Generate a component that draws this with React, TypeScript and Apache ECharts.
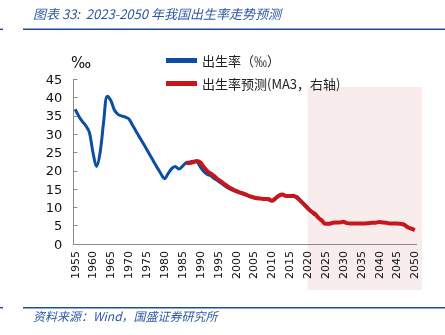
import React, { useEffect, useRef } from "react";
import * as echarts from "echarts";

const FIRST_YEAR = 1955;
const LAST_YEAR = 2050;
const years: string[] = Array.from({ length: LAST_YEAR - FIRST_YEAR + 1 }, (_, i) => String(FIRST_YEAR + i));

// 出生率（‰），1955 起
const birthRate: number[] = [
  36.8, 35.0, 33.5, 32.3, 30.5, 25.0, 21.2, 25.0, 33.5, 40.4,
  39.2, 36.6, 35.4, 35.0, 34.7, 34.2, 32.6, 30.9, 29.2, 27.6,
  25.9, 24.2, 22.5, 20.8, 19.2, 17.9, 19.2, 20.6, 21.2, 20.5,
  21.2, 22.2, 22.4, 22.6, 22.5, 21.1, 19.8, 19.0, 18.6, 17.8,
  17.2, 16.5, 15.8, 15.2, 14.7, 14.3, 14.0, 13.6, 13.3, 12.9,
  12.6, 12.5, 12.4, 12.3, 12.1, 11.8, 12.5, 13.3, 13.5, 13.2,
  13.0, 13.0, 12.9, 12.0, 11.0, 10.0, 9.0, 7.8,
];

// 出生率预测（MA3，右轴），1986 起
const FORECAST_START = 1986;
const forecast: number[] = [
  22.2, 22.1, 22.3, 22.7, 22.3, 21.0, 19.9, 19.2, 18.5, 17.6,
  17.0, 16.2, 15.5, 15.0, 14.5, 14.1, 13.8, 13.4, 13.0, 12.7,
  12.5, 12.4, 12.3, 12.3, 11.8, 12.4, 13.2, 13.5, 13.1, 13.1,
  13.2, 12.7, 11.8, 10.8, 9.8, 8.9, 8.3, 7.2, 6.4, 5.5,
  5.5, 5.8, 5.9, 5.9, 6.1, 5.7, 5.6, 5.6, 5.6, 5.6,
  5.6, 5.7, 5.8, 5.8, 6.0, 5.9, 5.8, 5.6, 5.6, 5.6,
  5.5, 5.3, 4.6, 4.2, 3.8,
];

const SHADE_FROM = "2020";

const TITLE = "图表 33:  2023-2050 年我国出生率走势预测";
const SOURCE = "资料来源：Wind，国盛证券研究所";
const LEGEND_ACTUAL = "出生率（‰）";
const LEGEND_FORECAST = "出生率预测(MA3，右轴)";

export default function App() {
  const ref = useRef<HTMLDivElement>(null);
  useEffect(() => {
    if (!ref.current) return;
    const chart = echarts.init(ref.current, undefined, { renderer: "svg" });
    const forecastData: (number | string)[] = years.map((y) => {
      const idx = Number(y) - FORECAST_START;
      return idx >= 0 && idx < forecast.length ? forecast[idx] : "-";
    });
    const blue = "#0B4EA2";
    const red = "#C8161D";
    const ruleColor = "#1F4E9A";
    const option: any = {
      animation: false,
      textStyle: { fontFamily: "DejaVu Sans" },
      grid: { left: 73.3, right: 28.4, top: 79.3, bottom: 91, containLabel: false },
      legend: {
        orient: "vertical",
        left: 161,
        top: 49,
        itemWidth: 31,
        itemHeight: 5,
        itemGap: 10,
        icon: "rect",
        textStyle: { fontFamily: "Noto Sans CJK SC", fontSize: 13, color: "#222" },
        data: [LEGEND_ACTUAL, LEGEND_FORECAST],
      },
      xAxis: {
        type: "category",
        data: years,
        boundaryGap: true,
        axisLine: { lineStyle: { color: "#8a8a8a", width: 1 } },
        axisTick: { inside: true, length: 4, interval: 4, lineStyle: { color: "#8a8a8a" } },
        axisLabel: { interval: 4, rotate: 90, fontSize: 11, color: "#111", margin: 7, fontFamily: "DejaVu Sans" },
        splitLine: { show: false },
      },
      yAxis: [
        {
          type: "value",
          min: 0,
          max: 45,
          interval: 5,
          axisLine: { show: true, lineStyle: { color: "#8a8a8a" } },
          axisTick: { show: true, inside: true, length: 4, lineStyle: { color: "#8a8a8a" } },
          axisLabel: { fontSize: 13, color: "#111", margin: 11, fontFamily: "DejaVu Sans" },
          splitLine: { show: false },
        },
        { type: "value", min: 0, max: 45, interval: 5, show: false, splitLine: { show: false } },
      ],
      series: [
        {
          name: LEGEND_ACTUAL,
          type: "line",
          data: birthRate,
          smooth: 0.35,
          symbol: "none",
          lineStyle: { color: blue, width: 3 },
          itemStyle: { color: blue },
          z: 3,
        },
        {
          name: LEGEND_FORECAST,
          type: "line",
          yAxisIndex: 1,
          data: forecastData,
          smooth: 0.35,
          symbol: "none",
          lineStyle: { color: red, width: 4 },
          itemStyle: { color: red },
          z: 4,
        },
      ],
    };
    chart.setOption(option);
    const x0 = chart.convertToPixel({ xAxisIndex: 0 }, SHADE_FROM) as number;
    chart.setOption({
      graphic: [
        {
          id: "shade",
          type: "rect",
          z: -10,
          silent: true,
          shape: { x: x0, y: 87, width: 422 - x0, height: 203 },
          style: { fill: "#F8EDEC" },
        },
        { id: "permil", type: "text", x: 71, y: 55, style: { text: "‰", fontSize: 15, fill: "#111", fontFamily: "DejaVu Sans" } },
        {
          id: "title",
          type: "text",
          x: 33,
          y: 7,
          style: { text: TITLE, fontSize: 13, fontStyle: "italic", fill: "#2B58A6", fontFamily: "Noto Sans CJK SC" },
        },
        { id: "r1a", type: "line", shape: { x1: 23, y1: 29.3, x2: 445, y2: 29.3 }, style: { stroke: ruleColor, lineWidth: 1.5 } },
        { id: "r1b", type: "line", shape: { x1: 0, y1: 29.3, x2: 3, y2: 29.3 }, style: { stroke: ruleColor, lineWidth: 1.5 } },
        { id: "r2a", type: "line", shape: { x1: 23, y1: 307.7, x2: 445, y2: 307.7 }, style: { stroke: ruleColor, lineWidth: 1.5 } },
        { id: "r2b", type: "line", shape: { x1: 0, y1: 307.7, x2: 3, y2: 307.7 }, style: { stroke: ruleColor, lineWidth: 1.5 } },
        {
          id: "source",
          type: "text",
          x: 33,
          y: 309,
          style: { text: SOURCE, fontSize: 12, fontStyle: "italic", fill: "#2B58A6", fontFamily: "Noto Sans CJK SC" },
        },
      ],
    });
    return () => chart.dispose();
  }, []);
  return <div ref={ref} style={{ position: "fixed", left: 0, top: 0, width: 445, height: 335 }} />;
}
